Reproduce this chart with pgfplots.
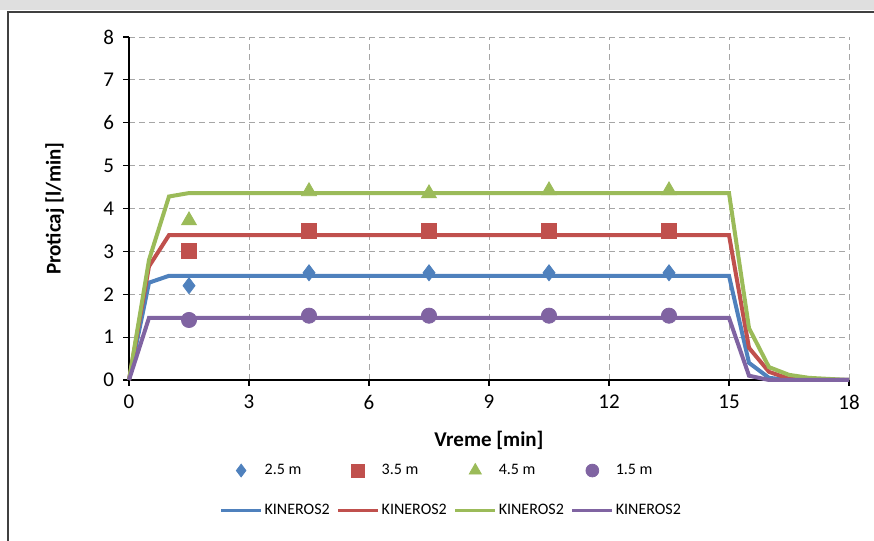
\documentclass[border=0pt]{standalone}
\usepackage{pgfplots}
\pgfplotsset{compat=1.18}
\usepackage{fontspec}
\setmainfont{Carlito}
\definecolor{cblue}{HTML}{4F81BD}
\definecolor{cred}{HTML}{C0504D}
\definecolor{cgreen}{HTML}{9BBB59}
\definecolor{cpurple}{HTML}{8064A2}
\pgfplotsset{legend image code/.code={\draw[mark repeat=2,mark phase=2,#1] plot coordinates {(0pt,0pt) (10pt,0pt) (20pt,0pt)};}}
\begin{document}
\begin{tikzpicture}
\useasboundingbox (0,0) rectangle (437pt,270.5pt);
\fill[gray!25] (0,265.5pt) rectangle (437pt,270.5pt);
\draw[black!75,line width=0.6pt] (4pt,-2pt) rectangle (440pt,264.5pt);
\begin{axis}[
  at={(64.5pt,80.5pt)}, anchor=south west,
  scale only axis, width=360pt, height=171.5pt,
  xmin=0, xmax=18, ymin=0, ymax=8,
  xtick={0,3,...,18}, ytick={0,1,...,8},
  axis x line*=bottom, axis y line*=left,
  axis line style={black, line width=0.6pt, -},
  tick style={black, line width=0.6pt},
  tick align=outside, major tick length=3pt,
  grid=major,
  major grid style={gray!70, dashed, line width=0.5pt, dash pattern=on 3pt off 2pt},
  ticklabel style={font=\fontsize{10.5}{12}\selectfont},
  xticklabel style={yshift=-1pt},
  yticklabel style={xshift=-1pt},
  /pgf/number format/assume math mode=true,
  xlabel={\textbf{Vreme [min]}},
  ylabel={\textbf{Proticaj [l/min]}},
  label style={font=\fontsize{10.5}{12}\selectfont},
  xlabel style={at={(axis description cs:0.5,-0.177)}, anchor=center},
  ylabel style={at={(axis description cs:-0.103,0.5)}, anchor=center},
  legend columns=4,
  legend style={at={(0.449,-0.22)}, anchor=north, draw=none, fill=none,
    font=\fontsize{8}{9.5}\selectfont,
    /tikz/every even column/.append style={column sep=1.5pt},
    /tikz/every odd column/.append style={column sep=-1pt},
    row sep=9.5pt, inner xsep=0pt},
  legend cell align=left,
  clip=false,
]
% observed points
\addplot[only marks, mark=diamond*, mark size=4pt, color=cblue, legend image post style={mark size=3.2pt}]
  coordinates {(1.5,2.2) (4.5,2.5) (7.5,2.5) (10.5,2.5) (13.5,2.5)};
\addlegendentry{2.5 m}
\addplot[only marks, mark=square*, mark size=3.7pt, color=cred, legend image post style={mark size=3.2pt}]
  coordinates {(1.5,3.02) (4.5,3.47) (7.5,3.47) (10.5,3.47) (13.5,3.47)};
\addlegendentry{3.5 m}
\addplot[only marks, mark=triangle*, mark size=4.3pt, color=cgreen, legend image post style={mark size=3.5pt}]
  coordinates {(1.5,3.72) (4.5,4.4) (7.5,4.35) (10.5,4.42) (13.5,4.42)};
\addlegendentry{4.5 m}
\addplot[only marks, mark=*, mark size=3.8pt, color=cpurple, legend image post style={mark size=3.2pt}]
  coordinates {(1.5,1.4) (4.5,1.5) (7.5,1.5) (10.5,1.5) (13.5,1.5)};
\addlegendentry{1.5 m}
% KINEROS2 lines
\addplot[cblue, line width=2pt, no marks, legend image post style={line width=1.5pt}]
  coordinates {(0,0) (0.5,2.27) (1,2.43) (1.5,2.43) (15,2.43) (15.5,0.4) (16,0.05) (16.5,0.0) (18,0)};
\addlegendentry{KINEROS2}
\addplot[cred, line width=2pt, no marks, legend image post style={line width=1.5pt}]
  coordinates {(0,0) (0.5,2.65) (1,3.38) (1.5,3.38) (15,3.38) (15.5,0.75) (16,0.19) (16.5,0.03) (17,0.01) (18,0)};
\addlegendentry{KINEROS2}
\addplot[cgreen, line width=2pt, no marks, legend image post style={line width=1.5pt}]
  coordinates {(0,0) (0.5,2.8) (1,4.28) (1.5,4.36) (15,4.36) (15.5,1.21) (16,0.3) (16.5,0.12) (17,0.05) (18,0)};
\addlegendentry{KINEROS2}
\addplot[cpurple, line width=2pt, no marks, legend image post style={line width=1.5pt}]
  coordinates {(0,0) (0.5,1.45) (1,1.45) (1.5,1.45) (15,1.45) (15.5,0.1) (16,0.0) (18,0)};
\addlegendentry{KINEROS2}
\end{axis}
\end{tikzpicture}
\end{document}
